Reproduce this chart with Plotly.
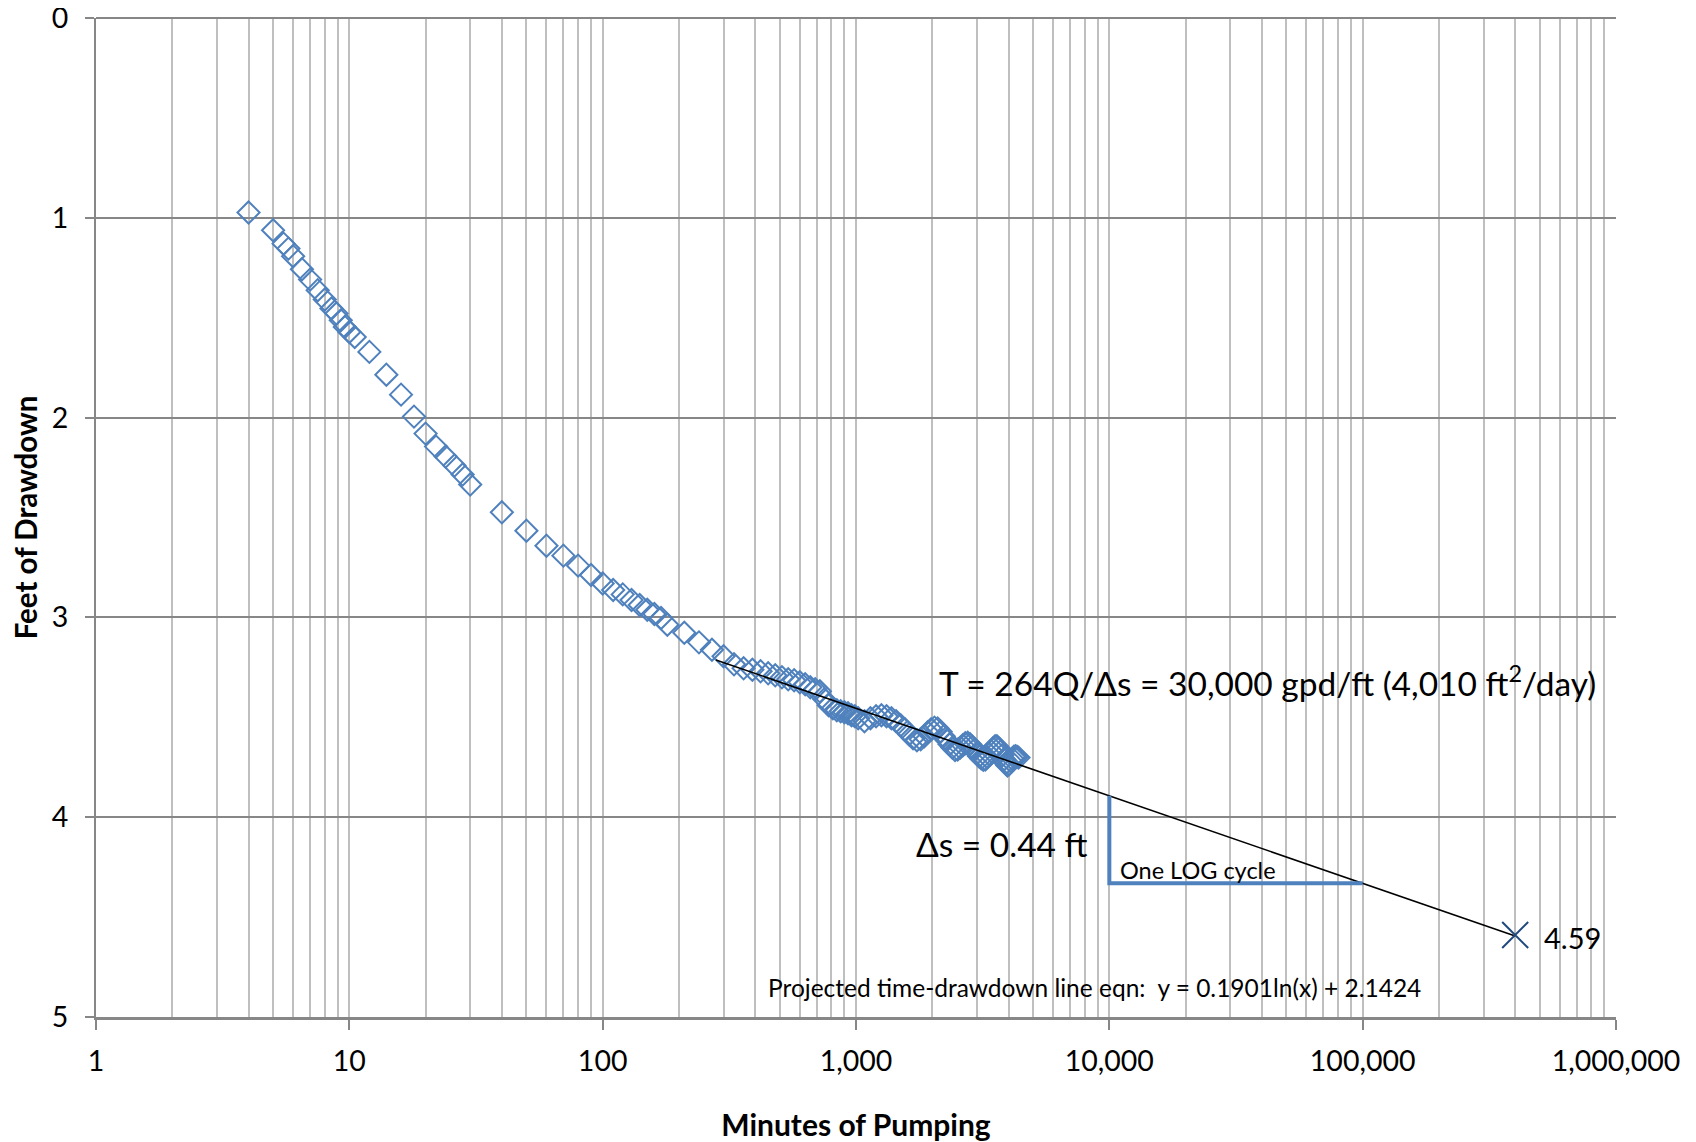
import plotly.graph_objects as go

# ---------------- data ----------------
minutes = [4, 5, 5.5, 5.75, 6, 6.5, 7, 7.5, 8, 8.5, 8.9, 9.25, 9.6, 10, 10.5, 12, 14, 16,
           18, 20, 22, 24, 26, 28, 30, 40, 50, 60, 70, 80, 90, 100, 110, 120, 130, 140,
           150, 160, 170, 180, 210, 240, 270,
           300, 330, 360, 390, 420, 450, 480, 510, 540, 570, 600, 630, 660, 690, 720,
           750, 780, 810, 840, 870, 900, 930, 960, 990,
           1020, 1080, 1140, 1200, 1260, 1320, 1380, 1440, 1500, 1560, 1620, 1680, 1740,
           1800, 1860, 1920, 1980, 2040, 2100, 2160, 2220, 2280, 2340, 2400, 2460, 2520,
           2580, 2640, 2700, 2760, 2820, 2880, 2940, 3000, 3060, 3120, 3180, 3240, 3300,
           3360, 3420, 3480, 3540, 3600, 3660, 3720, 3780, 3840, 3900, 3960, 4020, 4080,
           4140, 4200, 4260, 4320, 4380]
drawdown = [0.973, 1.062, 1.129, 1.154, 1.192, 1.257, 1.309, 1.362, 1.409, 1.454, 1.479,
            1.513, 1.546, 1.571, 1.596, 1.671, 1.785, 1.885,
            1.995, 2.08, 2.145, 2.195, 2.24, 2.285, 2.335, 2.474, 2.566, 2.641, 2.691,
            2.741, 2.788, 2.830, 2.863, 2.885, 2.913, 2.938,
            2.962, 2.983, 3.003, 3.037, 3.077, 3.125, 3.162,
            3.195, 3.235, 3.255, 3.262, 3.27, 3.28, 3.29, 3.30, 3.31, 3.315, 3.325, 3.335,
            3.35, 3.36, 3.37, 3.41, 3.44, 3.455, 3.465, 3.47, 3.475, 3.48, 3.49, 3.495,
            3.505, 3.52, 3.505, 3.495, 3.49, 3.495, 3.505, 3.52, 3.54, 3.56, 3.585, 3.605,
            3.615, 3.61, 3.595, 3.575, 3.56, 3.552, 3.556, 3.572, 3.595, 3.615, 3.635,
            3.652, 3.664, 3.662, 3.652, 3.64, 3.63, 3.628, 3.635, 3.648, 3.662, 3.68,
            3.695, 3.706, 3.713, 3.712, 3.70, 3.685, 3.67, 3.655, 3.645, 3.645, 3.655,
            3.672, 3.69, 3.71, 3.73, 3.742, 3.735, 3.72, 3.708, 3.698, 3.695, 3.698, 3.702]

# projected time-drawdown line (end points), projected point
trend_minutes = [280, 400000]
trend_drawdown = [3.213, 4.595]
projected_minutes = [400000]
projected_drawdown = [4.59]

# one-log-cycle bracket
cycle_minutes = [10000, 10000, 100000]
cycle_drawdown = [3.893, 4.331, 4.331]

x_tickvals = [1, 10, 100, 1000, 10000, 100000, 1000000]
x_ticktext = ["1", "10", "100", "1,000", "10,000", "100,000", "1,000,000"]
y_tickvals = [0, 1, 2, 3, 4, 5]

FONT = "Lato, 'Noto Sans', sans-serif"
BLUE = "#4f81bd"

fig = go.Figure()
fig.add_trace(go.Scatter(
    x=minutes, y=drawdown, mode="markers",
    marker=dict(symbol="diamond-open", size=17, color=BLUE, line=dict(width=2, color=BLUE)),
    showlegend=False))
fig.add_trace(go.Scatter(
    x=trend_minutes, y=trend_drawdown, mode="lines",
    line=dict(color="black", width=1.6), showlegend=False))
fig.add_trace(go.Scatter(
    x=cycle_minutes, y=cycle_drawdown, mode="lines",
    line=dict(color=BLUE, width=4), showlegend=False))
fig.add_trace(go.Scatter(
    x=projected_minutes, y=projected_drawdown, mode="markers",
    marker=dict(symbol="x-thin", size=26, color="#1f497d",
                line=dict(width=2, color="#1f497d")),
    showlegend=False))

annotations = [
    dict(x=3.319, y=3.318, text="T = 264Q/\u0394s = 30,000 gpd/ft (4,010 ft<sup>2</sup>/day)",
         font=dict(size=33.5, color="black")),
    dict(x=3.228, y=4.133, text="\u0394s = 0.44 ft", font=dict(size=33.5, color="black")),
    dict(x=4.034, y=4.263, text="One LOG cycle", font=dict(size=23.5, color="black")),
    dict(x=5.706, y=4.60, text="4.59", font=dict(size=29, color="black")),
    dict(x=2.643, y=4.853,
         text="Projected time-drawdown line eqn:  y = 0.1901ln(x) + 2.1424",
         font=dict(size=24.5, color="black")),
]
for a in annotations:
    a.update(xref="x", yref="y", xanchor="left", yanchor="middle", showarrow=False)
fig.update_layout(annotations=annotations)

# the page body has an 8px margin, so the figure is sized to fit the window
fig.update_layout(
    width=1688, height=1134,
    margin=dict(l=88, r=80, t=10, b=125),
    paper_bgcolor="white", plot_bgcolor="white",
    font=dict(family=FONT, size=28, color="black"),
    xaxis=dict(
        type="log", range=[0, 6], automargin=False,
        tickvals=x_tickvals, ticktext=x_ticktext,
        showgrid=True, gridcolor="#bfbfbf", gridwidth=2,
        minor=dict(dtick="D1", showgrid=True, gridcolor="#bfbfbf", gridwidth=2, ticks=""),
        showline=True, linecolor="#878787", linewidth=3,
        ticks="outside", ticklen=10, tickwidth=2, tickcolor="#878787",
        ticklabelstandoff=7, zeroline=False, ticklabeloverflow="allow",
        tickfont=dict(size=28.5),
        title=dict(text="<b>Minutes of Pumping</b>", font=dict(size=30), standoff=49),
    ),
    yaxis=dict(
        range=[5.0005, -0.0005], tickvals=y_tickvals, automargin=False,
        showgrid=True, gridcolor="#878787", gridwidth=2,
        showline=True, linecolor="#878787", linewidth=2,
        ticks="outside", ticklen=9, tickwidth=2, tickcolor="#878787",
        ticklabelstandoff=11, ticklabeloverflow="allow",
        zeroline=True, zerolinecolor="#878787", zerolinewidth=2,
        tickfont=dict(size=28.5),
        title=dict(text="<b>Feet of Drawdown</b>", font=dict(size=29.5), standoff=16),
    ),
)

fig.write_html("out.html")
